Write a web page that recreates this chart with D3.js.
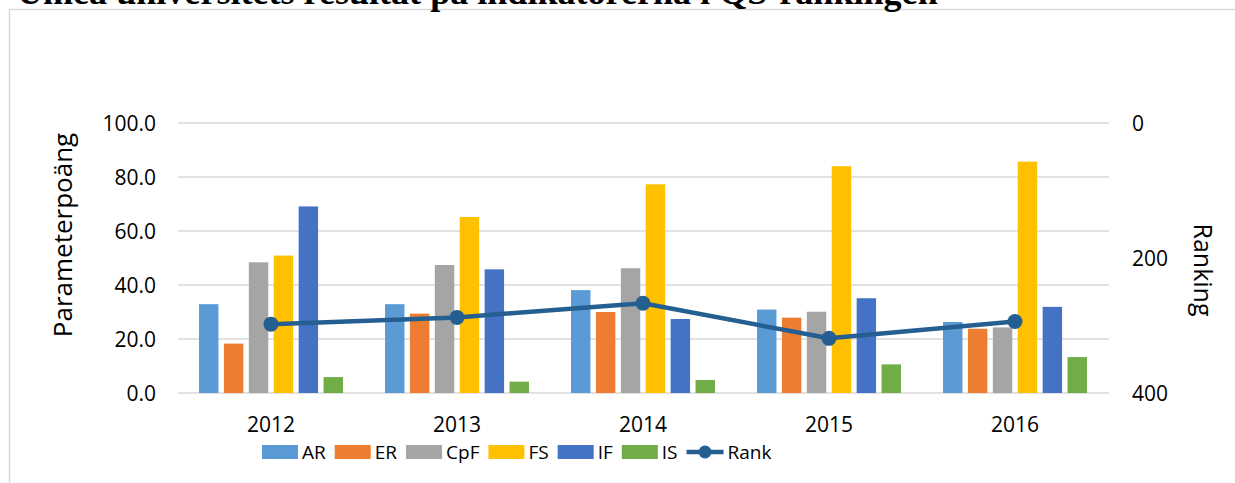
<!DOCTYPE html>
<html>
<head>
<meta charset="utf-8">
<script src="https://d3js.org/d3.v7.min.js"></script>
<style>
  body { margin: 0; background: #fff; }
  text { font-family: "Open Sans", sans-serif; fill: #000; }
</style>
</head>
<body>
<div id="chart"></div>
<script>
// data
var years = ["2012", "2013", "2014", "2015", "2016"];
var series = ["AR", "ER", "CpF", "FS", "IF", "IS"];
var AR  = [32.9, 32.9, 38.1, 30.9, 26.3];
var ER  = [18.3, 29.4, 30.0, 27.9, 23.8];
var CpF = [48.4, 47.4, 46.2, 30.1, 24.3];
var FS  = [50.9, 65.2, 77.3, 84.0, 85.7];
var IF  = [69.1, 45.8, 27.4, 35.1, 31.9];
var IS  = [5.9, 4.2, 4.8, 10.6, 13.3];
var rank = [298, 288, 267, 319, 294];
var leftTicks = [0, 20, 40, 60, 80, 100];
var rightTicks = [0, 200, 400];

var values = { AR: AR, ER: ER, CpF: CpF, FS: FS, IF: IF, IS: IS };
var colors = { AR: "#5B9BD5", ER: "#ED7D31", CpF: "#A5A5A5", FS: "#FFC000", IF: "#4472C4", IS: "#70AD47" };
var rankColor = "#255E91";

var W = 1235, H = 483;
var svg = d3.select("#chart").append("svg")
    .attr("width", W).attr("height", H);

// chart frame (right/bottom edges fall outside the picture)
svg.append("rect")
    .attr("x", 9.5).attr("y", 9.5)
    .attr("width", W + 20).attr("height", H + 20)
    .attr("fill", "none").attr("stroke", "#d9d9d9").attr("stroke-width", 1.5);

// title, mostly cut off at the top like in the source
var title = svg.append("text")
    .attr("x", 17).attr("y", 4)
    .style("font-family", "'Liberation Serif', 'Times New Roman', serif")
    .style("font-weight", "bold")
    .style("font-size", "30px")
    .text("Umeå universitets resultat på indikatorerna i QS-rankingen");
var tw = title.node().getComputedTextLength();
title.style("font-size", (30 * 921 / tw) + "px");

var plot = { left: 178, right: 1108, top: 123, bottom: 393 };

var x0 = d3.scaleBand().domain(years)
    .range([plot.left, plot.right])
    .paddingInner(0.226).paddingOuter(0.113);
var x1 = d3.scaleBand().domain(series)
    .range([0, x0.bandwidth()])
    .paddingInner(0.22);
var y = d3.scaleLinear().domain([0, 100]).range([plot.bottom, plot.top]);
var yR = d3.scaleLinear().domain([400, 0]).range([plot.bottom, plot.top]);

// gridlines
svg.append("g").selectAll("line")
    .data(leftTicks).enter().append("line")
    .attr("x1", plot.left).attr("x2", plot.right + 1)
    .attr("y1", function (d) { return y(d); })
    .attr("y2", function (d) { return y(d); })
    .attr("stroke", "#d9d9d9").attr("stroke-width", 1.5);

// left axis labels
svg.append("g").selectAll("text")
    .data(leftTicks).enter().append("text")
    .attr("x", 156)
    .attr("y", function (d) { return y(d); })
    .attr("dy", "0.36em")
    .attr("text-anchor", "end")
    .style("font-size", "21px")
    .text(function (d) { return d3.format(".1f")(d); });

// right axis labels
svg.append("g").selectAll("text")
    .data(rightTicks).enter().append("text")
    .attr("x", 1132)
    .attr("y", function (d) { return yR(d); })
    .attr("dy", "0.36em")
    .style("font-size", "21px")
    .text(function (d) { return d; });

// x labels
svg.append("g").selectAll("text")
    .data(years).enter().append("text")
    .attr("x", function (d) { return x0(d) + x0.bandwidth() / 2; })
    .attr("y", 432)
    .attr("text-anchor", "middle")
    .style("font-size", "21px")
    .text(function (d) { return d; });

// axis titles
svg.append("text")
    .attr("transform", "translate(72,235) rotate(-90)")
    .attr("text-anchor", "middle")
    .style("font-size", "26px")
    .text("Parameterpoäng");
svg.append("text")
    .attr("transform", "translate(1194,270) rotate(90)")
    .attr("text-anchor", "middle")
    .style("font-size", "25px")
    .text("Ranking");

// bars
var groups = svg.append("g").selectAll("g")
    .data(years).enter().append("g")
    .attr("transform", function (d) { return "translate(" + x0(d) + ",0)"; });
groups.selectAll("rect")
    .data(function (d, i) { return series.map(function (s) { return { s: s, v: values[s][i] }; }); })
    .enter().append("rect")
    .attr("x", function (d) { return x1(d.s); })
    .attr("width", x1.bandwidth())
    .attr("y", function (d) { return y(d.v); })
    .attr("height", function (d) { return plot.bottom - y(d.v); })
    .attr("fill", function (d) { return colors[d.s]; });

// rank line
var line = d3.line()
    .x(function (d, i) { return x0(years[i]) + x0.bandwidth() / 2; })
    .y(function (d) { return yR(d); });
svg.append("path")
    .datum(rank)
    .attr("d", line)
    .attr("fill", "none")
    .attr("stroke", rankColor)
    .attr("stroke-width", 4.5)
    .attr("stroke-linejoin", "round");
svg.append("g").selectAll("circle")
    .data(rank).enter().append("circle")
    .attr("cx", function (d, i) { return x0(years[i]) + x0.bandwidth() / 2; })
    .attr("cy", function (d) { return yR(d); })
    .attr("r", 7.5)
    .attr("fill", rankColor);

// legend
var legend = svg.append("g");
var lx = 262, ly = 452;
series.forEach(function (s) {
    legend.append("rect")
        .attr("x", lx).attr("y", ly - 7)
        .attr("width", 36).attr("height", 14)
        .attr("fill", colors[s]);
    var t = legend.append("text")
        .attr("x", lx + 40).attr("y", ly)
        .attr("dy", "0.36em")
        .style("font-size", "19px")
        .text(s);
    lx += 40 + t.node().getComputedTextLength() + 9;
});
legend.append("line")
    .attr("x1", lx).attr("x2", lx + 37)
    .attr("y1", ly).attr("y2", ly)
    .attr("stroke", rankColor).attr("stroke-width", 4.5);
legend.append("circle")
    .attr("cx", lx + 18.5).attr("cy", ly).attr("r", 6.5)
    .attr("fill", rankColor);
legend.append("text")
    .attr("x", lx + 41).attr("y", ly)
    .attr("dy", "0.36em")
    .style("font-size", "19px")
    .text("Rank");
</script>
</body>
</html>
